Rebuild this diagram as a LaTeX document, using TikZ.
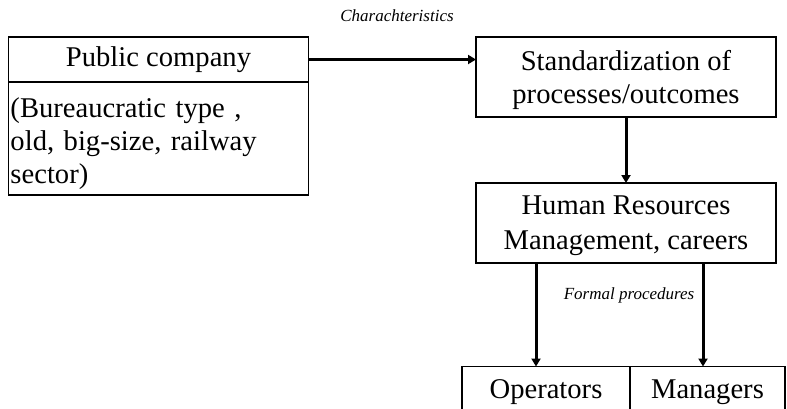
\documentclass[tikz,border=0pt]{standalone}
\usepackage{fontspec}
\setmainfont{Liberation Serif}
\usetikzlibrary{positioning,arrows.meta}
\begin{document}
\begin{tikzpicture}[x=0.5pt,y=-0.5pt,
  box/.style={draw, line width=0.65pt, inner sep=0pt, outer sep=0pt, font=\fontsize{14.3}{16.5}\selectfont, align=center},
  flow/.style={line width=1.5pt, -{Triangle[length=4pt,width=4.5pt]}},
  note/.style={font=\fontsize{8.5}{10}\selectfont\itshape}]
\useasboundingbox (0,0) rectangle (787,408);
\clip (0,0) rectangle (787,408);

\node[box, minimum width=150pt, minimum height=22.5pt] (pubhead) at (158.5,59.5) {Public company};
\node[box, minimum width=150pt, minimum height=56.5pt, text width=148pt, align=left, below=0pt of pubhead] (pubbody) {\rule{0pt}{15pt}(Bureaucratic type ,\\old, big-size, railway\\sector)};
\node[box, minimum width=150pt, minimum height=40pt] (stdbox) at (626,77) {\rule{0pt}{13pt}Standardization of\\processes/outcomes};
\node[box, minimum width=150pt, minimum height=40pt] (hrbox) at (626,223) {\rule{0pt}{12pt}Human Resources\\[1pt]Management, careers};
\node[box, minimum width=84pt, minimum height=26pt] (opbox) at (546,392.5) {Operators};
\node[box, minimum width=77.5pt, minimum height=26pt, right=0pt of opbox] (mgbox) {Managers};

\node[note] (chartext) at (397,16) {Charachteristics};
\node[note] (formtext) at (629,295) {Formal procedures};

\draw[flow] (pubhead.east) -- (stdbox.west |- pubhead.east);
\draw[flow] (stdbox) -- (hrbox);
\draw[flow] ([xshift=-45pt]hrbox.south) -- ([xshift=-45pt]hrbox.south |- opbox.north);
\draw[flow] ([xshift=38.5pt]hrbox.south) -- ([xshift=38.5pt]hrbox.south |- mgbox.north);
\end{tikzpicture}
\end{document}
